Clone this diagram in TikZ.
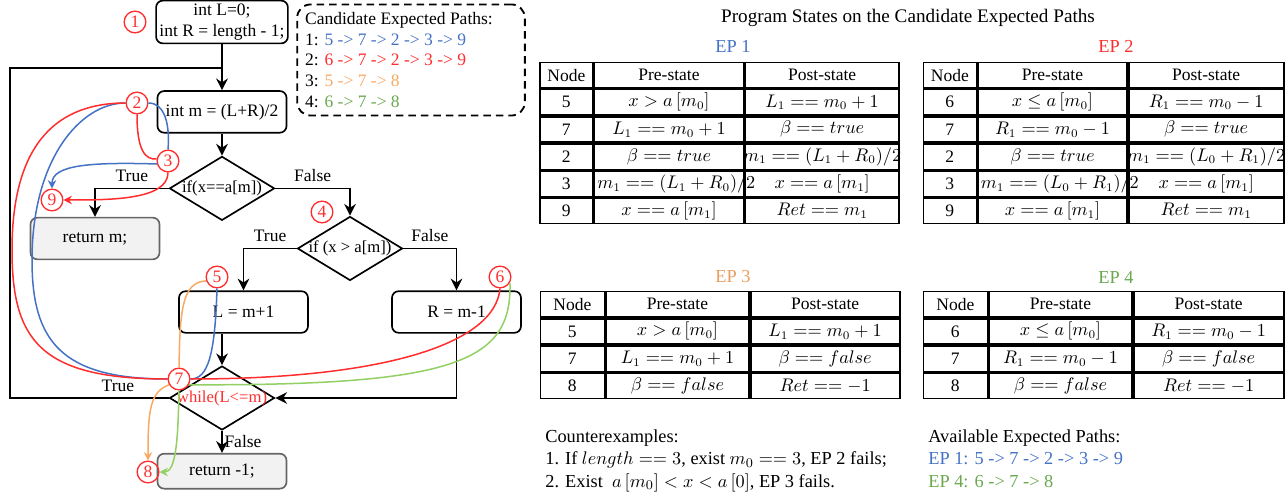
\documentclass[tikz,border=0pt]{standalone}
\usepackage{fontspec}
\setmainfont{Liberation Serif}
\usetikzlibrary{arrows.meta,positioning,shapes.geometric,matrix}

\definecolor{epred}{RGB}{255,45,45}
\definecolor{epblue}{RGB}{68,114,196}
\definecolor{eporange}{RGB}{248,170,100}
\definecolor{eporangetxt}{RGB}{233,158,94}
\definecolor{epgreen}{RGB}{146,208,100}
\definecolor{epgreentxt}{RGB}{106,168,79}

% long entries that run over their cell
\newcommand{\overcell}[1]{\makebox[86pt][l]{#1}}
\newcommand{\fitcell}[1]{\makebox[88pt]{#1}}

\begin{document}
\begin{tikzpicture}[
    x=0.6pt, y=-0.6pt,
    node distance=13.2pt,
    font=\fontsize{10.5}{12.4}\selectfont,
    every label/.style={font=\fontsize{10}{12}\selectfont},
    block/.style={
        rectangle,
        draw,
        rounded corners=4pt,
        minimum width=77.4pt,
        minimum height=25pt,
        align=center,
        inner sep=2pt,
        line width=1pt
    },
    final/.style={block, draw=black!60, fill=gray!10},
    decision/.style={diamond, draw, line width=1pt, minimum width=63pt, minimum height=38.4pt, inner sep=0pt},
    tag/.style={circle, draw=epred, text=epred, line width=0.8pt, minimum size=13pt, inner sep=0pt},
    flow/.style={-{Stealth[length=7pt,width=7pt]}, line width=1pt},
    wire/.style={line width=1pt},
    ep1/.style={draw=epblue, line width=0.9pt},
    ep2/.style={draw=epred, line width=0.9pt},
    ep3/.style={draw=eporange, line width=0.9pt},
    ep4/.style={draw=epgreen, line width=0.9pt},
    hit/.style={-{Stealth[length=5pt,width=5pt]}},
    cand/.style={rectangle, draw, dash pattern=on 4.5pt off 3pt, rounded corners=8pt, line width=1.1pt,
        text width=127pt, minimum height=66pt, inner sep=4.8pt, align=flush left},
    state/.style={matrix of nodes,
        nodes={draw, line width=1pt, minimum height=15.3pt, inner sep=0pt, outer sep=0pt,
            anchor=center, font=\fontsize{10.5}{12.5}\selectfont}},
    heading/.style={font=\fontsize{11}{13}\selectfont}
]
    \useasboundingbox (0,0) rectangle (1288,500);

    % --- FLOWCHART ---
    \node[block] (init) at (222,22) {int L=0;\\int R = length - 1;};
    \node[block, below=27.6pt of init] (calc) {int m = (L+R)/2};
    \node[decision, below=of calc, label={center:{if(x==a[m])}}] (cond1) {};
    \node[final] (retm) at (95,238.5) {return m;};
    \node[decision, label={center:{if (x > a[m])}}] (cond2) at (350,248.5) {};
    \node[block] (incL) at (243.5,312) {L = m+1};
    \node[block] (decR) at (456.5,312) {R = m-1};
    \node[decision, label={[text=epred]center:{while(L<=m)}}] (loop) at (222,398) {};
    \node[final, below=of loop, minimum height=21pt] (retneg) {return -1;};

    % --- CONNECTIONS ---
    \draw[flow] (init) -- (calc);
    \draw[flow] (calc) -- (cond1);
    \draw[flow] (cond1.west) -| node[pos=0.25, above] {True} (retm.north);
    \draw[flow] (cond1.east) -| node[pos=0.25, above] {False} (cond2.north);
    \draw[flow] (cond2.west) -| node[pos=0.25, above] {True} (incL.north);
    \draw[flow] (cond2.east) -| node[pos=0.25, above] {False} (decR.north);
    \draw[flow] (incL.south -| loop.north) -- (loop.north);
    \draw[flow] (decR.south) |- (loop.east);
    \draw[flow] (loop.south) -- node[right, inner sep=1pt] {False} (retneg.north);
    % loop back to the midpoint computation
    \coordinate (back) at (10,68);
    \draw[wire] (loop.west) -| node[pos=0.16, above] {True} (back) -- (back -| calc.north);

    % --- STATEMENT TAGS ---
    \node[tag] (s1) at (135,22) {1};
    \node[tag] (s2) at (137,103) {2};
    \node[tag] (s3) at (168,161) {3};
    \node[tag] (s4) at (322,212) {4};
    \node[tag] (s5) at (217,277) {5};
    \node[tag] (s6) at (500,277) {6};
    \node[tag] (s7) at (179,379) {7};
    \node[tag] (s8) at (148,472) {8};
    \node[tag] (s9) at (52,200) {9};

    % --- EXPECTED PATHS ---
    % EP 1: 5 -> 7 -> 2 -> 3 -> 9
    \draw[ep1] (s5.south) .. controls (215,355) and (208,379) .. (s7.east);
    \draw[ep1] (s7.west) .. controls (60,379) and (32,340) .. (32,260) .. controls (32,160) and (80,103) .. (s2.west);
    \draw[ep1] (s2.east) .. controls (165,103) and (170,125) .. (s3.north);
    \draw[ep1, hit] (s3.195) .. controls (90,162) and (52,165) .. (s9.north);

    % EP 2: 6 -> 7 -> 2 -> 3 -> 9
    \draw[ep2] (s6.south) .. controls (495,345) and (380,379) .. (s7.east);
    \draw[ep2] (s7.west) .. controls (40,379) and (12,340) .. (12,250) .. controls (12,140) and (60,103) .. (s2.west);
    \draw[ep2] (s2.south) .. controls (137,150) and (145,160) .. (s3.170);
    \draw[ep2, hit] (s3.south) .. controls (168,200) and (110,200) .. (s9.east);

    % EP 3: 5 -> 7 -> 8
    \draw[ep3] (s5.200) .. controls (182,282) and (180,310) .. (s7.north);
    \draw[ep3, hit] (s7.210) .. controls (150,392) and (148,410) .. (s8.north);

    % EP 4: 6 -> 7 -> 8
    \draw[ep4] (s6.-30) .. controls (512,360) and (460,386) .. (s7.-30);
    \draw[ep4, hit] (s7.south) .. controls (178,440) and (176,472) .. (s8.east);

    % --- CANDIDATE LIST ---
    \node[cand] (cand) at (411,60) {Candidate Expected Paths:\\
        1: \textcolor{epblue}{5 -> 7 -> 2 -> 3 -> 9}\\
        2: \textcolor{epred}{6 -> 7 -> 2 -> 3 -> 9}\\
        3: \textcolor{eporange}{5 -> 7 -> 8}\\
        4: \textcolor{epgreentxt}{6 -> 7 -> 8}};

    % --- STATE TABLES ---
    \node[font=\fontsize{11.5}{13}\selectfont] (title) at (908,18) {Program States on the Candidate Expected Paths};
    \node[heading, text=epblue] (lab1) at (733,46) {EP 1};
    \node[heading, text=epred] (lab2) at (1116,46) {EP 2};
    \node[heading, text=eporangetxt] (lab3) at (733,277) {EP 3};
    \node[heading, text=epgreentxt] (lab4) at (1116,277) {EP 4};

    \matrix[state, column 1/.style={nodes={minimum width=31.8pt}}, column 2/.style={nodes={minimum width=89.4pt}},
        column 3/.style={nodes={minimum width=92.4pt}}] (tab1) at (719.5,143) {
        Node & Pre-state & Post-state \\
        5 & $x > a\left[m_0\right]$ & $L_1 == m_0 + 1$ \\
        7 & $L_1 == m_0 + 1$ & $\beta == true$ \\
        2 & $\beta == true$ & \fitcell{$m_1 == (L_1 + R_0)/2$} \\
        3 & \overcell{$m_1 == (L_1 + R_0)/2$} & $x == a\left[m_1\right]$ \\
        9 & $x == a\left[m_1\right]$ & $Ret == m_1$ \\
    };
    \matrix[state, column 1/.style={nodes={minimum width=31.8pt}}, column 2/.style={nodes={minimum width=89.4pt}},
        column 3/.style={nodes={minimum width=93pt}}] (tab2) at (1103.5,143) {
        Node & Pre-state & Post-state \\
        6 & $x \leq a\left[m_0\right]$ & $R_1 == m_0 - 1$ \\
        7 & $R_1 == m_0 - 1$ & $\beta == true$ \\
        2 & $\beta == true$ & \fitcell{$m_1 == (L_0 + R_1)/2$} \\
        3 & \overcell{$m_1 == (L_0 + R_1)/2$} & $x == a\left[m_1\right]$ \\
        9 & $x == a\left[m_1\right]$ & $Ret == m_1$ \\
    };
    \matrix[state, column 1/.style={nodes={minimum width=38.4pt}}, column 2/.style={nodes={minimum width=85.8pt}},
        column 3/.style={nodes={minimum width=89.4pt}}] (tab3) at (720,345) {
        Node & Pre-state & Post-state \\
        5 & $x > a\left[m_0\right]$ & $L_1 == m_0 + 1$ \\
        7 & $L_1 == m_0 + 1$ & $\beta == false$ \\
        8 & $\beta == false$ & $Ret == -1$ \\
    };
    \matrix[state, column 1/.style={nodes={minimum width=38.4pt}}, column 2/.style={nodes={minimum width=85.8pt}},
        column 3/.style={nodes={minimum width=90pt}}] (tab4) at (1103.5,345) {
        Node & Pre-state & Post-state \\
        6 & $x \leq a\left[m_0\right]$ & $R_1 == m_0 - 1$ \\
        7 & $R_1 == m_0 - 1$ & $\beta == false$ \\
        8 & $\beta == false$ & $Ret == -1$ \\
    };

    % --- NOTES ---
    \node[anchor=north west, align=left, inner sep=0pt, font=\fontsize{11}{13.5}\selectfont] (cex) at (545,429)
        {Counterexamples:\\
        1. If $length == 3$, exist $m_0 == 3$, EP 2 fails;\\
        2. Exist\ \ $a\left[m_0\right] < x < a\left[0\right]$, EP 3 fails.};
    \node[anchor=north west, align=left, inner sep=0pt, font=\fontsize{11}{13.5}\selectfont] (avail) at (928,429)
        {Available Expected Paths:\\
        \textcolor{epblue}{EP 1: 5 -> 7 -> 2 -> 3 -> 9}\\
        \textcolor{epgreentxt}{EP 4: 6 -> 7 -> 8}};

\end{tikzpicture}
\end{document}
